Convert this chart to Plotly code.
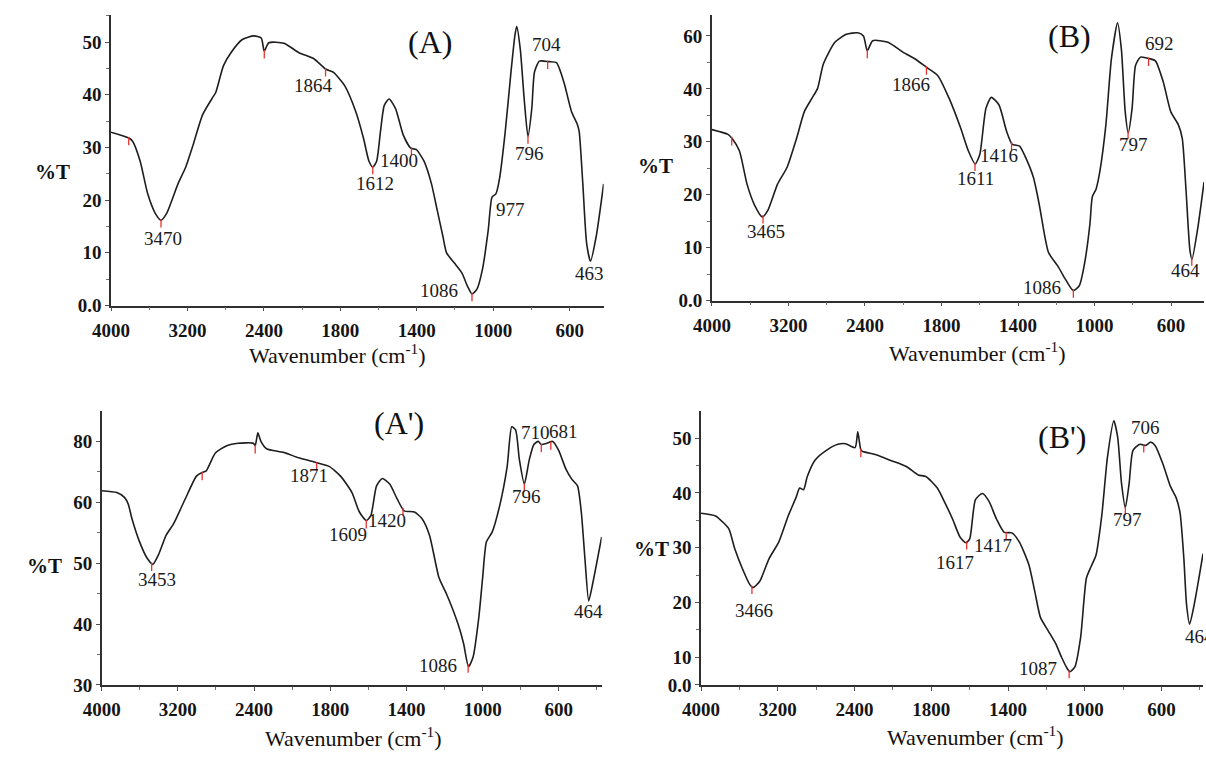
import numpy as np
import plotly.graph_objects as go

# ---------------- data ----------------
X_TICK_VALUES = [4000, 3200, 2400, 1800, 1400, 1000, 600]
X_TICK_TEXT = ["4000", "3200", "2400", "1800", "1400", "1000", "600"]

# Panel A
wn_A = [4000, 3814, 3774, 3695, 3616, 3537, 3477, 3418, 3299, 3220, 3141, 3042, 2943, 2903, 2824,
        2745, 2626, 2507, 2428, 2397, 2362, 2243, 2124, 2005, 1916, 1856, 1778, 1719, 1679, 1650,
        1630, 1610, 1590, 1570, 1545, 1511, 1471, 1432, 1402, 1362, 1323, 1293, 1263, 1244, 1204,
        1164, 1135, 1111, 1085, 1056, 1026, 1006, 986, 966, 937, 907, 887, 877, 858, 838, 818, 798,
        784, 758, 709, 669, 630, 590, 560, 550, 531, 511, 491, 461, 422]
T_A = [32.9, 31.8, 31.2, 27.4, 21.2, 17.5, 16.2, 17.5, 23.1, 26.2, 30.5, 36.2, 39.3, 40.5, 45.5,
       48.0, 50.5, 51.2, 50.8, 48.3, 49.9, 49.8, 48.0, 46.8, 44.9, 44.3, 41.8, 36.8, 31.8, 27.4,
       26.3, 27.4, 33.0, 38.0, 39.2, 37.4, 32.4, 29.9, 29.6, 27.4, 23.1, 18.1, 13.1, 10.0, 8.1,
       6.2, 3.7, 2.2, 3.1, 6.9, 14.3, 20.6, 21.2, 24.3, 33.0, 44.3, 51.1, 53.0, 48.6, 39.3, 32.1, 37.4,
       44.3, 46.4, 46.3, 46.1, 42.4, 36.8, 34.4, 33.0, 23.1, 11.8, 8.4, 13.1, 23.1]

# Panel B
wn_B = [4000, 3832, 3793, 3713, 3633, 3553, 3473, 3414, 3314, 3214, 3114, 3034, 2955, 2895, 2835,
        2715, 2596, 2476, 2416, 2382, 2340, 2220, 2100, 2010, 1919, 1829, 1760, 1700, 1660, 1624,
        1600, 1568, 1540, 1500, 1460, 1430, 1392, 1360, 1320, 1290, 1260, 1240, 1192, 1152, 1112,
        1080, 1052, 1024, 1012, 992, 972, 941, 912, 880, 860, 840, 824, 804, 786, 760, 712, 682,
        641, 602, 562, 542, 522, 502, 491, 462, 428]
T_B = [32.3, 31.4, 30.7, 28.3, 22.0, 18.0, 15.8, 17.1, 22.0, 25.2, 30.7, 35.7, 38.2, 40.2, 49.4,
       57.6, 60.6, 61.2, 60.0, 54.4, 58.2, 57.6, 53.8, 51.4, 48.2, 45.0, 38.2, 32.6, 28.3, 25.8,
       27.6, 36.3, 38.4, 37.0, 32.0, 29.5, 29.2, 27.0, 23.3, 18.3, 12.1, 9.0, 6.5, 4.0, 1.9,
       2.8, 7.1, 14.6, 19.6, 21.1, 24.5, 33.2, 51.4, 65.0, 55.0, 35.7, 31.7, 36.3, 48.8, 52.0, 51.4, 50.6,
       42.6, 35.7, 33.2, 30.7, 20.8, 9.6, 7.8, 13.4, 22.4]

# Panel A'
wn_A2 = [4000, 3841, 3761, 3721, 3682, 3602, 3522, 3463, 3403, 3323, 3244, 3124, 3005, 2945, 2905,
         2806, 2687, 2567, 2408, 2391, 2370, 2346, 2302, 2167, 2048, 1907, 1809, 1746, 1686, 1647,
         1611, 1587, 1557, 1527, 1488, 1448, 1412, 1358, 1318, 1279, 1229, 1189, 1129, 1100, 1074,
         1050, 1020, 1000, 980, 950, 910, 871, 847, 827, 807, 781, 755, 731, 708, 692, 662, 632,
         602, 562, 532, 502, 482, 463, 443, 423, 375]
T_A2 = [63.8, 63.2, 61.6, 59.7, 57.3, 53.5, 50.8, 49.8, 51.4, 54.6, 56.5, 61.0, 68.6, 69.8, 70.2,
        76.2, 78.6, 79.4, 79.4, 78.6, 82.8, 80.0, 77.6, 76.4, 74.6, 73.0, 71.8, 68.6, 63.2, 58.4,
        57.0, 57.8, 65.4, 67.8, 66.0, 61.0, 58.6, 58.4, 57.3, 54.6, 47.6, 44.9, 40.0, 36.8, 33.0,
        34.6, 41.1, 47.6, 53.5, 55.1, 59.5, 71.8, 84.8, 83.8, 74.0, 66.0, 74.0, 79.0, 80.0, 79.0, 79.4, 80.0,
        77.2, 70.8, 67.6, 65.4, 58.4, 50.8, 43.8, 46.5, 54.3]

# Panel B'
wn_B2 = [4000, 3849, 3769, 3709, 3649, 3570, 3490, 3458, 3390, 3291, 3191, 3092, 3012, 2972, 2932,
         2893, 2813, 2694, 2574, 2494, 2396, 2375, 2351, 2336, 2231, 2112, 1993, 1903, 1843, 1769,
         1729, 1689, 1650, 1620, 1600, 1570, 1534, 1500, 1460, 1420, 1380, 1341, 1291, 1261, 1231,
         1191, 1151, 1122, 1092, 1078, 1052, 1022, 992, 968, 942, 912, 882, 849, 829, 809, 789, 769,
         749, 713, 683, 657, 634, 594, 554, 524, 504, 484, 470, 454, 430, 384]
T_B2 = [36.3, 35.8, 34.6, 33.4, 29.8, 26.2, 23.2, 22.7, 23.8, 28.0, 31.0, 35.8, 39.1, 40.9, 40.6,
        43.0, 46.0, 47.8, 48.9, 49.0, 48.3, 51.2, 47.9, 47.6, 47.0, 45.9, 44.8, 43.3, 43.0, 40.9,
        38.2, 35.2, 31.9, 30.9, 31.6, 38.8, 39.9, 38.5, 35.2, 32.8, 32.7, 31.0, 26.8, 22.0, 17.2,
        14.8, 12.4, 10.0, 5.9, 4.7, 6.5, 13.6, 24.4, 26.5, 28.6, 35.8, 46.6, 53.2, 50.2, 41.8, 37.3, 41.8,
        47.8, 48.9, 48.7, 49.3, 48.7, 45.4, 41.2, 39.1, 36.4, 28.0, 19.6, 16.0, 19.6, 28.9]

# y tick labels of each panel (value, text)
Y_TICKS_A = [0, 10, 20, 30, 40, 50]
Y_TEXT_A = ["0.0", "10", "20", "30", "40", "50"]
Y_TICKS_B = [0, 10, 20, 30, 40, 60]
Y_TEXT_B = ["0.0", "10", "20", "30", "40", "60"]
Y_TICKS_A2 = [30, 40, 50, 60, 80]
Y_TEXT_A2 = ["30", "40", "50", "60", "80"]
Y_TICKS_B2 = [0, 10, 20, 30, 40, 50]
Y_TEXT_B2 = ["0.0", "10", "20", "30", "40", "50"]

# peak labels: text, wavenumber where the marker sits
PEAK_TEXT_A = ["3470", "1864", "1612", "1400", "1086", "977", "796", "704", "463"]
PEAK_POS_A = [3477, 1916, 1630, 1428, 1111, 977, 818, 715, 491]
PEAK_TEXT_B = ["3465", "1866", "1611", "1416", "1086", "797", "692", "464"]
PEAK_POS_B = [3466, 1918, 1625, 1434, 1111, 825, 718, 492]
PEAK_TEXT_A2 = ["3453", "1871", "1609", "1420", "1086", "796", "710", "681", "464"]
PEAK_POS_A2 = [3475, 1907, 1611, 1418, 1076, 781, 692, 642, 443]
PEAK_TEXT_B2 = ["3466", "1617", "1417", "1087", "797", "706", "464"]
PEAK_POS_B2 = [3470, 1616, 1410, 1082, 789, 693, 454]

# red instrument marks
RED_A = [3815, 3477, 2397, 1916, 1630, 1428, 1111, 818, 715]
RED_B = [3793, 3466, 2382, 1918, 1625, 1434, 1111, 825, 718, 492]
RED_A2 = [2945, 2391, 3475, 1907, 1611, 1418, 1076, 781, 692, 642]
RED_B2 = [2351, 3470, 1616, 1410, 1082, 789, 693]

# ---------------- scales ----------------
def xmap(w):
    # the figure's axis puts ticks 4000,3200,2400,1800,1400,1000,600 at equal steps
    w = np.asarray(w, float)
    xp = np.array([200, 600, 1000, 1400, 1800, 2400, 3200, 4000], float)
    fp = np.array([7, 6, 5, 4, 3, 2, 1, 0], float)
    return np.interp(w, xp, fp)


def pwl(v, src, dst):
    v = np.atleast_1d(np.asarray(v, float))
    src = np.asarray(src, float)
    dst = np.asarray(dst, float)
    out = np.interp(v, src, dst)
    s0 = (dst[1] - dst[0]) / (src[1] - src[0])
    s1 = (dst[-1] - dst[-2]) / (src[-1] - src[-2])
    lo = v < src[0]
    hi = v > src[-1]
    out[lo] = dst[0] + (v[lo] - src[0]) * s0
    out[hi] = dst[-1] + (v[hi] - src[-1]) * s1
    return out


# where the figure draws each y tick label along its axis (irregular labelling)
YPOS_A = [0, 10, 20, 30, 40, 50]
YPOS_B = [0, 10, 20, 30, 40, 50]
YPOS_A2 = [30, 40, 50, 60, 70]
YPOS_B2 = [4.9, 10, 20, 30, 40, 50]

W, H = 1206, 759
def px(x):
    return x / W
def py(y):
    return 1 - y / H

SERIF = "Liberation Serif, Times New Roman, serif"
LINE = "#1e1e1e"

panels = [
    dict(wn=wn_A, T=T_A, yt=Y_TICKS_A, ytx=Y_TEXT_A, yp=YPOS_A, ptxt=PEAK_TEXT_A, ppos=PEAK_POS_A,
         dx=[2, -12, 2, -12, -33, 13, 2, -1, -1], dy=[-18, -16, -17, -12, 3, -23, -17, 17, -12],
         red=RED_A, xd=(93.5, 594), yd=(310, 15), yr=(0, 55.2), yminor=[5, 15, 25, 35, 45, 55],
         title=(324, 359), pct=(34, 175), tag="(A)", tagpos=(418, 43)),
    dict(wn=wn_B, T=T_B, yt=Y_TICKS_B, ytx=Y_TEXT_B, yp=YPOS_B, ptxt=PEAK_TEXT_B, ppos=PEAK_POS_B,
         dx=[3, -15, 1, -13, -31, 5, 11, -6], dy=[-15, -17, -15, -13, 3, -13, 15, -12],
         red=RED_B, xd=(704, 1204), yd=(305, 15), yr=(0, 54.0), yminor=[5, 15, 25, 35, 45],
         title=(974, 357), pct=(647, 168), tag="(B)", tagpos=(1067, 37)),
    dict(wn=wn_A2, T=T_A2, yt=Y_TICKS_A2, ytx=Y_TEXT_A2, yp=YPOS_A2, ptxt=PEAK_TEXT_A2, ppos=PEAK_POS_A2,
         dx=[5, -8, -18, -16, -30, 2, -6, 13, 0], dy=[-16, -13, -14, -12, -1, -12, 12, 11, -11],
         red=RED_A2, xd=(84, 592), yd=(695, 417), yr=(30, 75.0), yminor=[35, 45, 55, 65],
         title=(340, 748), pct=(26, 574), tag="(A')", tagpos=(386, 429)),
    dict(wn=wn_B2, T=T_B2, yt=Y_TICKS_B2, ytx=Y_TEXT_B2, yp=YPOS_B2, ptxt=PEAK_TEXT_B2, ppos=PEAK_POS_B2,
         dx=[2, -12, -13, -31, 2, 2, 10], dy=[-24, -21, -13, 2, -12, 18, -12],
         red=RED_B2, xd=(693, 1203), yd=(695, 417), yr=(4.9, 55.0), yminor=[15, 25, 35, 45],
         title=(972, 747), pct=(643, 557), tag="(B')", tagpos=(1060, 443)),
]

fig = go.Figure()
annotations = []
layout = {}

for i, p in enumerate(panels):
    k = "" if i == 0 else str(i + 1)
    xa, ya = "x" + k, "y" + k
    wn = np.asarray(p["wn"], float)
    T = np.asarray(p["T"], float)
    xu = xmap(wn)
    yu = pwl(T, p["yt"], p["yp"])

    fig.add_trace(go.Scatter(x=xu, y=yu, mode="lines", xaxis=xa, yaxis=ya,
                             line=dict(color=LINE, width=1.6, shape="spline", smoothing=0.6),
                             showlegend=False, hoverinfo="skip"))

    order = np.argsort(wn)
    def tval(w):
        return float(np.interp(w, wn[order], T[order]))

    red = np.asarray(p["red"], float)
    fig.add_trace(go.Scatter(x=xmap(red), y=pwl([tval(w) for w in red], p["yt"], p["yp"]) - 0.6,
                             mode="markers", xaxis=xa, yaxis=ya,
                             marker=dict(symbol="line-ns", size=6, line=dict(color="#e8322e", width=1.3)),
                             showlegend=False, hoverinfo="skip"))

    for txt, w, dx, dy in zip(p["ptxt"], p["ppos"], p["dx"], p["dy"]):
        annotations.append(dict(x=float(xmap(w)), y=float(pwl(tval(w), p["yt"], p["yp"])[0]),
                                xref=xa, yref=ya, text=txt, showarrow=False,
                                xanchor="center", yanchor="middle", xshift=dx, yshift=dy,
                                font=dict(family=SERIF, size=19, color="#1a1a1a")))

    xr_end = float(xmap(wn.min()))
    layout["xaxis" + k] = dict(
        domain=[px(p["xd"][0]), px(p["xd"][1])], anchor=ya, range=[0, xr_end],
        tickmode="array", tickvals=list(xmap(X_TICK_VALUES)), ticktext=X_TICK_TEXT,
        showline=True, linecolor="#303030", linewidth=1.5, ticks="outside", ticklen=4,
        tickcolor="#505050", tickwidth=1, showgrid=False, zeroline=False,
        tickfont=dict(family=SERIF, size=19, color="#151515", weight="bold"),
        ticklabelstandoff=3,
        minor=dict(tickvals=[v + 0.5 for v in range(7) if v + 0.5 < xr_end], ticks="outside",
                   ticklen=3, tickcolor="#707070", showgrid=False),
    )
    layout["yaxis" + k] = dict(
        domain=[py(p["yd"][0]), py(p["yd"][1])], anchor=xa, range=list(p["yr"]),
        tickmode="array", tickvals=p["yp"], ticktext=p["ytx"],
        showline=True, linecolor="#303030", linewidth=1.5, ticks="outside", ticklen=4,
        tickcolor="#505050", tickwidth=1, showgrid=False, zeroline=False,
        tickfont=dict(family=SERIF, size=19, color="#151515", weight="bold"),
        minor=dict(tickvals=p["yminor"], ticks="outside", ticklen=3, tickcolor="#707070",
                   showgrid=False),
    )

    annotations.append(dict(x=px(p["title"][0]), y=py(p["title"][1]), xref="paper", yref="paper",
                            text="Wavenumber (cm<sup>-1</sup>)", showarrow=False,
                            xanchor="center", yanchor="middle",
                            font=dict(family=SERIF, size=22, color="#111")))
    annotations.append(dict(x=px(p["pct"][0]), y=py(p["pct"][1]), xref="paper", yref="paper",
                            text="%T", showarrow=False, xanchor="center", yanchor="middle",
                            font=dict(family=SERIF, size=21, color="#111", weight="bold")))
    annotations.append(dict(x=px(p["tagpos"][0]), y=py(p["tagpos"][1]), xref="paper", yref="paper",
                            text=p["tag"], showarrow=False, xanchor="center", yanchor="middle",
                            font=dict(family=SERIF, size=32, color="#111")))

fig.update_layout(width=W, height=H, margin=dict(l=0, r=0, t=0, b=0),
                  paper_bgcolor="white", plot_bgcolor="white",
                  annotations=annotations, **layout)

fig.write_html("out.html")
